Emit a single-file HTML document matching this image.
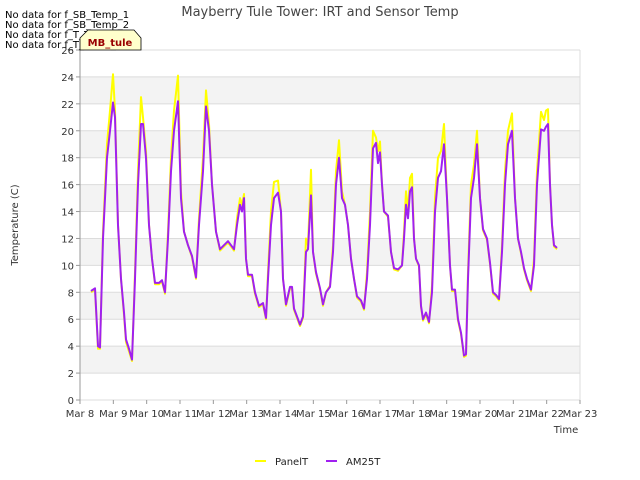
<!DOCTYPE html>
<html><head><meta charset="utf-8"><style>
body{margin:0;background:#fff;}
svg{display:block;font-family:"DejaVu Sans","Liberation Sans",sans-serif;}
</style></head><body>
<svg id="chart" width="640" height="480">
<text x="320" y="16" text-anchor="middle" font-size="13" fill="#444">Mayberry Tule Tower: IRT and Sensor Temp</text>
<g id="bands"></g>
<g id="grid"></g>
<g id="series"></g>
<g id="axes"></g>
<text x="18" y="225" transform="rotate(-90 18 225)" text-anchor="middle" font-size="10" fill="#333">Temperature (C)</text>
<text x="566" y="433" text-anchor="middle" font-size="10" fill="#333">Time</text>
<g font-size="10" fill="#000">
<text x="5" y="18">No data for f_SB_Temp_1</text>
<text x="5" y="28">No data for f_SB_Temp_2</text>
<text x="5" y="38">No data for f_T_Temp_1</text>
<text x="5" y="48">No data for f_T_Temp_2</text>
</g>
<g>
<path d="M80 50 L80 38 L88 30 L134 30 L141 38 L141 50 Z" fill="#ffffcc" stroke="#000" stroke-width="0.8"/>
<text x="110" y="46" text-anchor="middle" font-size="10" font-weight="bold" fill="#990000">MB_tule</text>
</g>
<g id="legend">
<line x1="255" y1="461" x2="266" y2="461" stroke="#ffff00" stroke-width="2"/>
<text x="275" y="465" font-size="10" fill="#222">PanelT</text>
<line x1="326" y1="461" x2="337" y2="461" stroke="#a020f0" stroke-width="2"/>
<text x="346" y="465" font-size="10" fill="#222">AM25T</text>
</g>
</svg>
<script>
const times=[0.33,0.45,0.54,0.6,0.69,0.81,0.9,0.99,1.05,1.14,1.23,1.32,1.38,1.47,1.56,1.65,1.74,1.83,1.89,1.98,2.07,2.16,2.25,2.37,2.46,2.55,2.64,2.73,2.82,2.94,3.03,3.12,3.24,3.36,3.48,3.57,3.69,3.78,3.87,3.96,4.08,4.2,4.32,4.44,4.53,4.62,4.71,4.8,4.86,4.92,4.98,5.04,5.16,5.25,5.37,5.49,5.58,5.64,5.73,5.82,5.94,6.03,6.09,6.18,6.3,6.36,6.42,6.51,6.6,6.69,6.78,6.84,6.93,6.99,7.08,7.2,7.29,7.38,7.5,7.59,7.68,7.77,7.86,7.95,8.04,8.13,8.22,8.31,8.43,8.52,8.61,8.7,8.79,8.88,8.94,9.0,9.06,9.12,9.24,9.33,9.42,9.54,9.66,9.72,9.78,9.84,9.9,9.96,10.02,10.08,10.17,10.23,10.29,10.38,10.47,10.56,10.65,10.74,10.83,10.92,11.01,11.1,11.16,11.25,11.34,11.43,11.52,11.58,11.64,11.73,11.82,11.91,12.0,12.09,12.21,12.3,12.39,12.48,12.57,12.66,12.75,12.84,12.96,13.05,13.14,13.23,13.32,13.41,13.53,13.62,13.71,13.83,13.92,13.98,14.04,14.1,14.16,14.22,14.31];
const am25t=[8.1,8.3,4.0,3.9,12,18,20,22.1,21,13,9,6.5,4.5,3.8,3,9,16,20.5,20.5,18,13,10.5,8.7,8.7,8.9,8,12,17,20,22.2,15,12.5,11.5,10.7,9.1,13,17,21.8,20,16,12.5,11.2,11.5,11.8,11.5,11.2,13,14.5,14,15,10.5,9.3,9.3,8,7,7.2,6.1,9,13,15,15.4,14,9,7.1,8.4,8.4,6.8,6.2,5.6,6.2,11,11.2,15.2,11,9.5,8.3,7.1,8,8.4,11,16,18,15,14.5,13,10.5,9,7.7,7.4,6.8,9,13,18.7,19.1,17.6,18.4,16,14,13.7,11,9.8,9.7,10,12,14.5,13.5,15.5,15.8,12,10.5,10,7,6,6.5,5.8,8,14,16.5,17,19,15,10,8.2,8.2,6,5,3.3,3.4,9,15,16.5,19,15,12.7,12,10.2,8,7.8,7.5,11,16,19,20,15,12,11,9.8,9,8.2,10,16,20.1,20,20.3,20.5,16,13,11.5,11.3];
const panelt=[8.0,8.2,3.8,3.8,12.5,19,21.5,24.2,21.5,13,9,6.3,4.3,3.6,2.9,9.5,17,22.5,21,18.5,13,10.5,8.6,8.6,8.8,7.9,12.5,18,21.5,24.1,15.5,12.5,11.5,10.6,9.0,13.5,18,23,20.5,16,12.5,11.1,11.4,11.7,11.4,11.1,13.5,15,14.5,15.3,10.5,9.2,9.2,7.9,6.9,7.1,6.0,9.5,14,16.2,16.3,14,9,7.0,8.3,8.3,6.7,6.1,5.5,6.1,12,11.5,17.1,11,9.4,8.2,7.0,8,8.5,11.5,17,19.3,15.5,14.5,13,10.5,9,7.6,7.3,6.7,9.5,14,20,19.5,18.5,19.2,16,14,13.6,11,9.7,9.6,10,12.5,15.5,14,16.5,16.8,12,10.5,9.9,6.9,5.9,6.4,5.7,8.5,15,18,18.5,20.5,15,10,8.1,8.1,5.9,4.9,3.2,3.3,9.5,16,17.5,20,15,12.6,11.9,10.1,7.9,7.7,7.4,11.5,17,20,21.3,15,12,10.9,9.7,8.9,8.1,10.5,17,21.4,20.8,21.5,21.6,16,13,11.4,11.2];
const yTicks=[0,2,4,6,8,10,12,14,16,18,20,22,24,26];
const xTickLabels=["Mar 8","Mar 9","Mar 10","Mar 11","Mar 12","Mar 13","Mar 14","Mar 15","Mar 16","Mar 17","Mar 18","Mar 19","Mar 20","Mar 21","Mar 22","Mar 23"];
const X0=80,X1=580,Y0=400,Y1=50;
const xs=t=>X0+(X1-X0)*t/15;
const ys=v=>Y0-(Y0-Y1)*v/26;
const NS="http://www.w3.org/2000/svg";
function mk(tag,attrs,parent){const e=document.createElementNS(NS,tag);for(const k in attrs)e.setAttribute(k,attrs[k]);parent.appendChild(e);return e;}
const bands=document.getElementById('bands'),grid=document.getElementById('grid'),axes=document.getElementById('axes'),series=document.getElementById('series');
mk('rect',{x:X0,y:Y1,width:X1-X0,height:Y0-Y1,fill:'#fff'},bands);
for(let i=0;i<yTicks.length-1;i++){
  if(i%2===1){const r=mk('rect',{x:X0,y:ys(yTicks[i+1]),width:X1-X0,height:ys(yTicks[i])-ys(yTicks[i+1]),fill:'#f3f3f3'},bands);
  
  }
}
yTicks.forEach(v=>{
  const l=mk('line',{x1:X0,x2:X1,y1:ys(v),y2:ys(v),stroke:'#dcdcdc','stroke-width':1},grid);
  
  
  const t=mk('text',{x:X0-6,y:ys(v)+4,'text-anchor':'end','font-size':10,fill:'#333'},axes);
  
  
  t.textContent=v;
  mk('line',{x1:X0-4,x2:X0,y1:ys(v),y2:ys(v),stroke:'#999'},axes);
});
mk('line',{x1:X1,x2:X1,y1:Y1,y2:Y0,stroke:'#dcdcdc'},grid);
mk('line',{x1:X0,x2:X0,y1:Y1,y2:Y0,stroke:'#999'},axes);
xTickLabels.forEach((s,i)=>{
  const t=mk('text',{x:xs(i),y:Y0+17,'text-anchor':'middle','font-size':10,fill:'#333'},axes);
  
  
  t.textContent=s;
  mk('line',{x1:xs(i),x2:xs(i),y1:Y0,y2:Y0+4,stroke:'#999'},axes);
});
function line(vals,color,name){
  const d=vals.map((v,i)=>(i?'L':'M')+xs(times[i]).toFixed(1)+' '+ys(v).toFixed(1)).join(' ');
  const p=mk('path',{d:d,fill:'none',stroke:color,'stroke-width':2,'stroke-linejoin':'round'},series);
  
  
}
line(panelt,'#ffff00','panelt-line');
line(am25t,'#a020f0','am25t-line');
</script>
</body></html>
